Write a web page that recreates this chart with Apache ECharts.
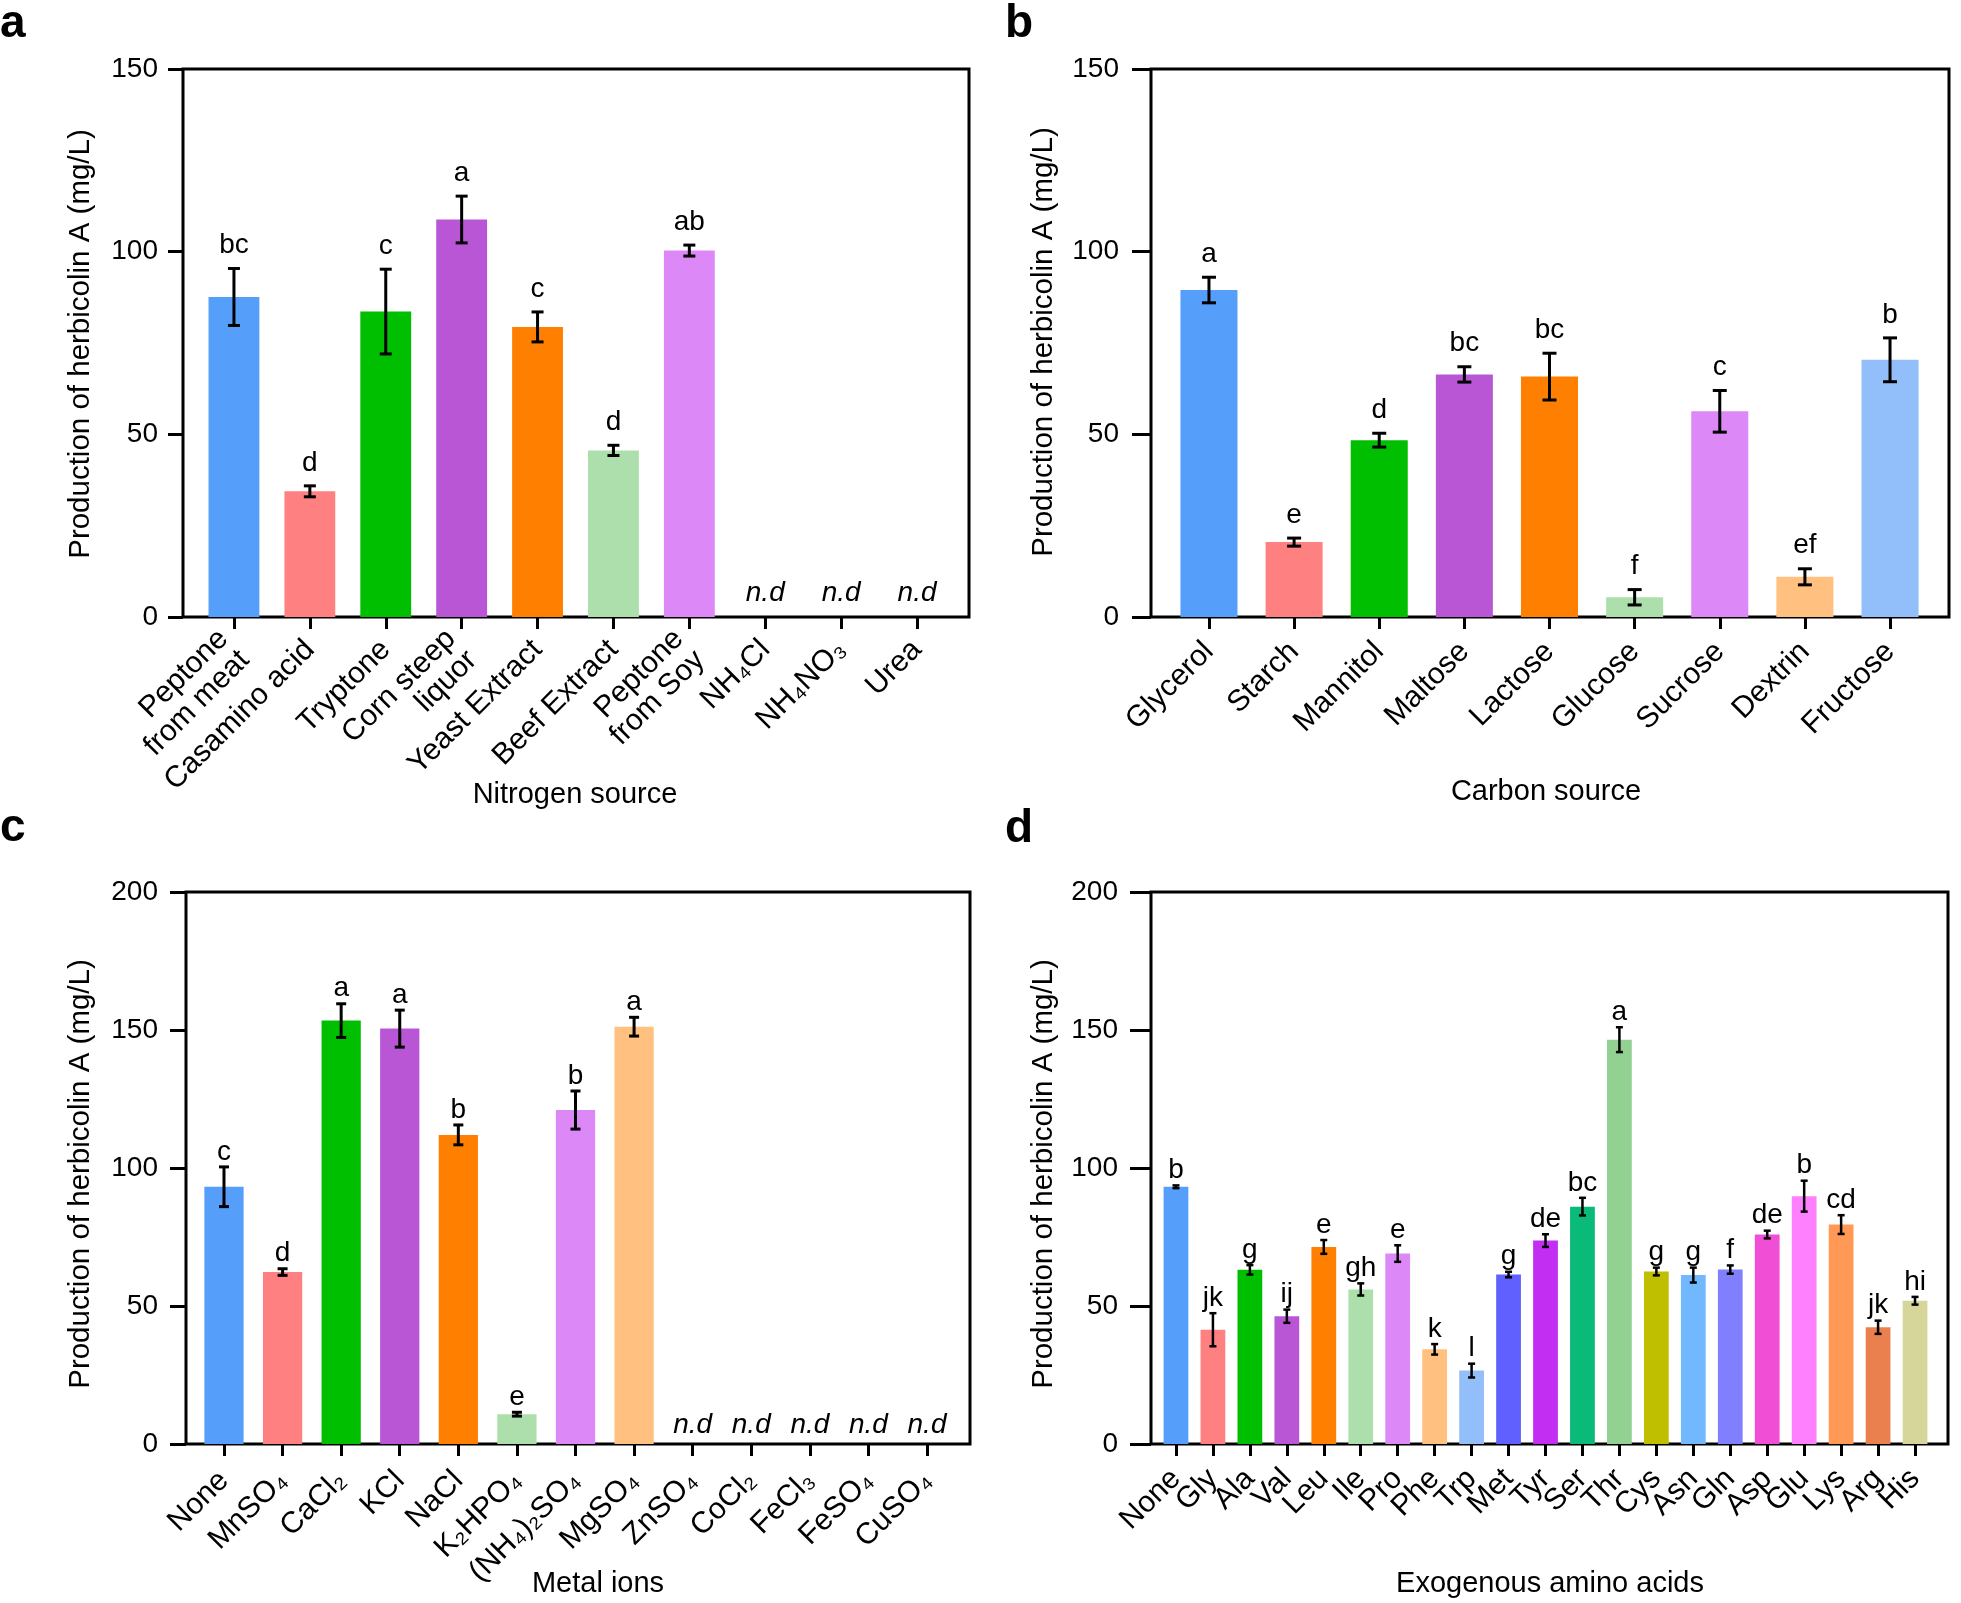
<!DOCTYPE html>
<html><head><meta charset="utf-8">
<script src="https://cdn.jsdelivr.net/npm/echarts@6/dist/echarts.min.js"></script>
<style>html,body{margin:0;padding:0;background:#fff}#c{width:1961px;height:1603px}</style>
</head><body><div id="c"></div>
<script>
const FONT = '"Liberation Sans", Arial, Helvetica, sans-serif';

// ---- Panel a: nitrogen source ----
const nitrogenSources = ['Peptone\nfrom meat','Casamino acid','Tryptone','Corn steep\nliquor','Yeast Extract','Beef Extract','Peptone\nfrom Soy','NH₄Cl','NH₄NO₃','Urea'];
const nitrogenValues = [87.6, 34.4, 83.6, 108.8, 79.4, 45.6, 100.3, null, null, null];
const nitrogenErrors = [7.8, 1.5, 11.6, 6.4, 4.1, 1.4, 1.5, null, null, null];
const nitrogenLetters = ['bc','d','c','a','c','d','ab','','',''];

// ---- Panel b: carbon source ----
const carbonSources = ['Glycerol','Starch','Mannitol','Maltose','Lactose','Glucose','Sucrose','Dextrin','Fructose'];
const carbonValues = [89.5, 20.5, 48.4, 66.4, 65.8, 5.4, 56.3, 11.0, 70.4];
const carbonErrors = [3.5, 1.1, 1.9, 2.1, 6.4, 2.1, 5.7, 2.2, 6.0];
const carbonLetters = ['a','e','d','bc','bc','f','c','ef','b'];

// ---- Panel c: metal ions ----
const metalIons = ['None','MnSO₄','CaCl₂','KCl','NaCl','K₂HPO₄','(NH₄)₂SO₄','MgSO₄','ZnSO₄','CoCl₂','FeCl₃','FeSO₄','CuSO₄'];
const metalValues = [93.2, 62.3, 153.4, 150.5, 112.0, 10.8, 121.0, 151.2, null, null, null, null, null];
const metalErrors = [7.2, 1.2, 6.1, 6.7, 3.6, 0.7, 6.9, 3.4, null, null, null, null, null];
const metalLetters = ['c','d','a','a','b','e','b','a','','','','',''];

// ---- Panel d: exogenous amino acids ----
const aminoAcids = ['None','Gly','Ala','Val','Leu','Ile','Pro','Phe','Trp','Met','Tyr','Ser','Thr','Cys','Asn','Gln','Asp','Glu','Lys','Arg','His'];
const aminoValues = [93.2, 41.4, 63.1, 46.3, 71.4, 56.0, 69.0, 34.3, 26.6, 61.4, 73.7, 86.0, 146.5, 62.5, 61.2, 63.2, 75.9, 89.8, 79.5, 42.3, 51.9];
const aminoErrors = [0.5, 6.0, 1.7, 2.4, 2.5, 2.2, 3.0, 1.9, 2.5, 1.0, 2.3, 3.2, 4.5, 1.4, 2.7, 1.5, 1.4, 5.6, 3.4, 2.4, 1.4];
const aminoLetters = ['b','jk','g','ij','e','gh','e','k','l','g','de','bc','a','g','g','f','de','b','cd','jk','hi'];

// ---- palettes ----
const paletteA = ['#559ffb','#ff8080','#00bf00','#b856d6','#ff8000','#addfad','#dd88f7','#000','#000','#000'];
const paletteB = ['#559ffb','#ff8080','#00bf00','#b856d6','#ff8000','#addfad','#dd88f7','#ffc080','#92bffa'];
const paletteC = ['#559ffb','#ff8080','#00bf00','#b856d6','#ff8000','#addfad','#dd88f7','#ffc080','#000','#000','#000','#000','#000'];
const paletteD = ['#559ffb','#ff8080','#00bf00','#b856d6','#ff8000','#addfad','#dd88f7','#ffc080','#92bffa','#6060ff','#c22ef2','#0aba78','#92d192','#bfbf00','#72b8ff','#8080ff','#f04ed5','#ff80ff','#ff9955','#eb804f','#d6d69a'];

const panels = [
  {cats: nitrogenSources, vals: nitrogenValues, errs: nitrogenErrors, letters: nitrogenLetters, colors: paletteA,
   frame: {left: 183, top: 69, width: 786, height: 548}, data: {left: 196, width: 759},
   ymax: 150, tickLen: 15, labelMargin: 25, catMargin: 28, cap: 6, errW: 3, letterGap: 9, ndDrop: 10,
   yname: {x: 81, y: 344}, xname: {text: 'Nitrogen source', x: 575, y: 795}, tag: {text: 'a', x: 0, y: 47}},
  {cats: carbonSources, vals: carbonValues, errs: carbonErrors, letters: carbonLetters, colors: paletteB,
   frame: {left: 1151, top: 69, width: 798, height: 548}, data: {left: 1166.4, width: 766.2},
   ymax: 150, tickLen: 19, labelMargin: 32, catMargin: 30, cap: 7, errW: 3, letterGap: 9, ndDrop: 10,
   yname: {x: 1044, y: 342}, xname: {text: 'Carbon source', x: 1546, y: 792}, tag: {text: 'b', x: 1005, y: 47}},
  {cats: metalIons, vals: metalValues, errs: metalErrors, letters: metalLetters, colors: paletteC,
   frame: {left: 186, top: 892, width: 784, height: 552}, data: {left: 194.7, width: 761.6},
   ymax: 200, tickLen: 16, labelMargin: 28, catMargin: 32, cap: 5, errW: 3, letterGap: 1, ndDrop: 5,
   yname: {x: 81, y: 1174}, xname: {text: 'Metal ions', x: 598, y: 1584}, tag: {text: 'c', x: 0, y: 851}},
  {cats: aminoAcids, vals: aminoValues, errs: aminoErrors, letters: aminoLetters, colors: paletteD,
   frame: {left: 1151, top: 892, width: 797, height: 552}, data: {left: 1157.5, width: 776},
   ymax: 200, tickLen: 21, labelMargin: 33, catMargin: 30, cap: 3.5, errW: 2.5, letterGap: 1, ndDrop: 10,
   yname: {x: 1044, y: 1174}, xname: {text: 'Exogenous amino acids', x: 1550, y: 1584}, tag: {text: 'd', x: 1005, y: 852}}
];

const grid = [], xAxis = [], yAxis = [], series = [], graphic = [];

panels.forEach((p) => {
  const gi = grid.length;
  // frame grid (box + y axis)
  grid.push({show: true, borderColor: '#000', borderWidth: 3, backgroundColor: 'transparent',
    left: p.frame.left, top: p.frame.top, width: p.frame.width, height: p.frame.height});
  // data grid (category band)
  grid.push({left: p.data.left, top: p.frame.top, width: p.data.width, height: p.frame.height});

  xAxis.push({gridIndex: gi, type: 'value', show: false, min: 0, max: 1});
  yAxis.push({gridIndex: gi, type: 'value', min: 0, max: p.ymax, interval: 50,
    axisLine: {show: false}, splitLine: {show: false},
    axisTick: {show: true, length: p.tickLen, lineStyle: {color: '#000', width: 3}},
    axisLabel: {color: '#000', fontSize: 28, fontFamily: FONT, margin: p.labelMargin}});

  xAxis.push({gridIndex: gi + 1, type: 'category', data: p.cats,
    axisLine: {show: false},
    axisTick: {show: true, alignWithLabel: true, length: 12, lineStyle: {color: '#000', width: 3}},
    axisLabel: {interval: 0, rotate: 45, color: '#000', fontSize: 30, fontFamily: FONT, margin: p.catMargin, lineHeight: 30}});
  yAxis.push({gridIndex: gi + 1, type: 'value', min: 0, max: p.ymax, show: false});

  series.push({type: 'bar', xAxisIndex: gi + 1, yAxisIndex: gi + 1, barWidth: '67%',
    data: p.vals.map((v, i) => ({value: v == null ? '-' : v, itemStyle: {color: p.colors[i]}}))});

  series.push({type: 'custom', xAxisIndex: gi + 1, yAxisIndex: gi + 1, z: 5,
    data: p.vals.map((v, i) => [i, v == null ? 0 : v, p.errs[i] == null ? 0 : p.errs[i]]),
    encode: {x: 0, y: 1},
    renderItem: function (params, api) {
      const i = params.dataIndex;
      const v = p.vals[i], e = p.errs[i];
      const children = [];
      if (v == null) {
        const pt = api.coord([i, 0]);
        children.push({type: 'text', style: {text: 'n.d', x: pt[0], y: pt[1] - p.ndDrop,
          font: 'italic 28px ' + FONT, fill: '#000', align: 'center', verticalAlign: 'bottom',
          textAlign: 'center', textVerticalAlign: 'bottom'}});
        return {type: 'group', children};
      }
      const top = api.coord([i, v + e]);
      const bot = api.coord([i, v - e]);
      const x = top[0];
      const st = {stroke: '#000', lineWidth: p.errW};
      children.push({type: 'line', shape: {x1: x, y1: top[1], x2: x, y2: bot[1]}, style: st});
      children.push({type: 'line', shape: {x1: x - p.cap, y1: top[1], x2: x + p.cap, y2: top[1]}, style: st});
      children.push({type: 'line', shape: {x1: x - p.cap, y1: bot[1], x2: x + p.cap, y2: bot[1]}, style: st});
      children.push({type: 'text', style: {text: p.letters[i], x: x, y: top[1] - p.letterGap,
        font: '28px ' + FONT, fill: '#000', align: 'center', verticalAlign: 'bottom',
        textAlign: 'center', textVerticalAlign: 'bottom'}});
      return {type: 'group', children};
    }});

  graphic.push({type: 'text', x: p.yname.x, y: p.yname.y, rotation: Math.PI / 2,
    style: {text: 'Production of herbicolin A (mg/L)', font: '29.5px ' + FONT, fill: '#000',
      textAlign: 'center', textVerticalAlign: 'middle'}});
  graphic.push({type: 'text', x: p.xname.x, y: p.xname.y,
    style: {text: p.xname.text, font: '29px ' + FONT, fill: '#000', textAlign: 'center', textVerticalAlign: 'middle'}});
  graphic.push({type: 'text', x: p.tag.x, y: p.tag.y,
    style: {text: p.tag.text, font: 'bold 46px ' + FONT, fill: '#000', textAlign: 'left', textVerticalAlign: 'bottom'}});
});

const chart = echarts.init(document.getElementById('c'), null, {renderer: 'canvas'});
chart.setOption({animation: false, backgroundColor: '#fff', grid, xAxis, yAxis, series, graphic});
</script>
</body></html>
